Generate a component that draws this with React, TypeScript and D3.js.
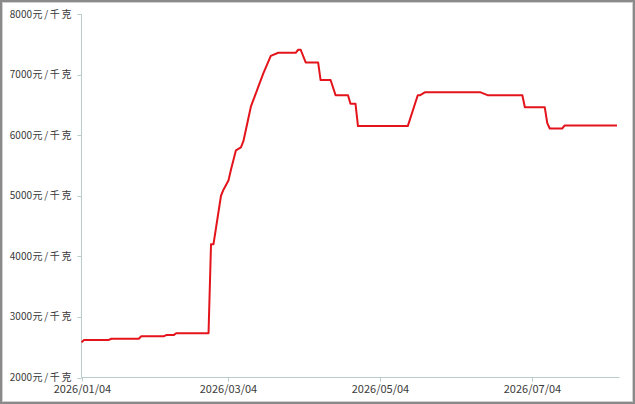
import React from "react";
import * as d3 from "d3";

const dates: string[] = [
  "2026-01-04", "2026-01-05", "2026-01-15", "2026-01-16", "2026-01-27", "2026-01-28",
  "2026-02-06", "2026-02-07", "2026-02-10", "2026-02-11", "2026-02-24", "2026-02-25",
  "2026-02-26", "2026-03-01", "2026-03-02", "2026-03-04", "2026-03-05", "2026-03-07",
  "2026-03-09", "2026-03-10", "2026-03-13", "2026-03-16", "2026-03-18", "2026-03-21",
  "2026-03-24", "2026-03-31", "2026-04-01", "2026-04-02", "2026-04-04", "2026-04-09",
  "2026-04-10", "2026-04-14", "2026-04-16", "2026-04-21", "2026-04-22", "2026-04-24",
  "2026-04-25", "2026-05-15", "2026-05-19", "2026-05-20", "2026-05-22", "2026-06-13",
  "2026-06-16", "2026-06-30", "2026-07-01", "2026-07-09", "2026-07-10", "2026-07-11",
  "2026-07-16", "2026-07-17", "2026-08-07",
];
const prices: number[] = [
  2580, 2620, 2620, 2640, 2640, 2680,
  2680, 2700, 2700, 2730, 2730, 4200,
  4200, 5000, 5100, 5250, 5430, 5750,
  5800, 5900, 6470, 6800, 7020, 7310,
  7360, 7360, 7410, 7410, 7200, 7200,
  6910, 6910, 6660, 6660, 6520, 6520,
  6150, 6150, 6660, 6660, 6710, 6710,
  6660, 6660, 6460, 6460, 6200, 6110,
  6110, 6160, 6160,
];
const yTicks: number[] = [2000, 3000, 4000, 5000, 6000, 7000, 8000];
const xTickDates: string[] = ["2026-01-04", "2026-03-04", "2026-05-04", "2026-07-04"];
const xDomain: string[] = ["2026-01-04", "2026-08-08"];
const unit = "元/千克";

const W = 635;
const H = 404;
const parse = d3.utcParse("%Y-%m-%d");
const fmt = d3.utcFormat("%Y/%m/%d");

export default function App() {
  const left = 81.5;
  const right = 619.5;
  const top = 14;
  const bottom = 377.5;
  const x = d3
    .scaleUtc()
    .domain(xDomain.map((d) => parse(d) as Date))
    .range([left, right]);
  const y = d3.scaleLinear().domain([2000, 8000]).range([bottom, top]);
  const data = dates.map((d, i) => ({ date: parse(d) as Date, v: prices[i] }));
  const line = d3
    .line<{ date: Date; v: number }>()
    .x((d) => x(d.date))
    .y((d) => y(d.v));
  const axisColor = "#b9cccc";
  const textColor = "#3a3a3a";
  const font = "'Noto Sans CJK SC', 'Noto Sans', sans-serif";
  return (
    <svg
      width={W}
      height={H}
      style={{ position: "absolute", left: 0, top: 0, background: "#fff" }}
    >
      <rect x={1} y={1} width={W - 2} height={H - 2} fill="#fff" stroke="#8a8a8a" strokeWidth={2} />
      <rect x={2.5} y={2.5} width={W - 5} height={H - 5} fill="none" stroke="#d0d0d0" strokeWidth={1} />
      {/* y axis */}
      <line x1={left} x2={left} y1={top} y2={bottom} stroke={axisColor} strokeWidth={1} />
      {yTicks.map((t) => (
        <g key={t}>
          <line x1={left - 4} x2={left} y1={Math.round(y(t)) + 0.5} y2={Math.round(y(t)) + 0.5} stroke={axisColor} />
          <text
            x={32}
            y={y(t)}
            dy="0.35em"
            textAnchor="end"
            fontSize={10}
            fontFamily={font}
            fill={textColor}
          >
            {String(t)}
          </text>
          <text
            x={32.5}
            y={y(t)}
            dy="0.35em"
            textAnchor="start"
            fontSize={10}
            fontFamily={font}
            fill={textColor}
            textLength={39}
            lengthAdjust="spacing"
          >
            {unit}
          </text>
        </g>
      ))}
      {/* x axis */}
      <line x1={left} x2={right} y1={bottom} y2={bottom} stroke={axisColor} strokeWidth={1} />
      {xTickDates.map((d) => {
        const xv = Math.round(x(parse(d) as Date)) + 0.5;
        return (
          <g key={d}>
            <line x1={xv} x2={xv} y1={bottom} y2={bottom + 4} stroke={axisColor} />
            <text
              x={xv}
              y={393}
              textAnchor="middle"
              fontSize={11}
              fontFamily={font}
              fill={textColor}
            >
              {fmt(parse(d) as Date)}
            </text>
          </g>
        );
      })}
      <path d={line(data) || ""} fill="none" stroke="#e3141b" strokeWidth={2} strokeLinejoin="round" />
    </svg>
  );
}
